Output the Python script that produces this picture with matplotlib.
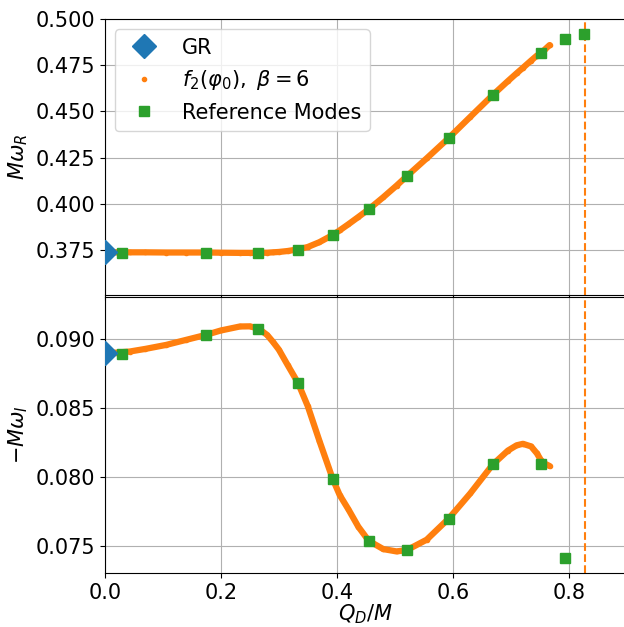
import numpy as np
import matplotlib
matplotlib.use("Agg")
import matplotlib.pyplot as plt

# GR (Schwarzschild l=2, n=0) mode
gr_x = [0.0]
gr_re = [0.37367]
gr_im = [0.08896]

# f2(phi0), beta = 6 curve
curve_x = [0.005, 0.02, 0.043, 0.07, 0.106, 0.14, 0.175, 0.2, 0.233, 0.25, 0.265,
           0.28, 0.29, 0.30, 0.315, 0.333, 0.35, 0.37, 0.393, 0.405, 0.42, 0.437, 0.455, 0.48,
           0.503, 0.521, 0.555, 0.593, 0.63, 0.669, 0.695, 0.71, 0.721, 0.735,
           0.745, 0.752, 0.759, 0.767]
curve_re = [0.3737, 0.3737, 0.3737, 0.3737, 0.3736, 0.3736, 0.3736, 0.3735, 0.3734, 0.3734, 0.3734,
            0.3735, 0.3737, 0.3739, 0.3744, 0.3753, 0.3766, 0.3792, 0.3831, 0.3856, 0.3889, 0.3928, 0.3970, 0.4035,
            0.4098, 0.4150, 0.4246, 0.4356, 0.4470, 0.4589, 0.4664, 0.4706, 0.4736, 0.4775,
            0.4802, 0.4814, 0.4836, 0.4859]
curve_im = [0.08896, 0.08898, 0.08906, 0.08925, 0.08954, 0.08990, 0.09027, 0.09058, 0.09087, 0.09088, 0.09072,
            0.09025, 0.08975, 0.08920, 0.08810, 0.08680, 0.08510, 0.08260, 0.07984, 0.07868, 0.07765, 0.07640, 0.07538, 0.07478,
            0.07461, 0.07471, 0.07546, 0.07699, 0.07880, 0.08090, 0.08190, 0.08228, 0.08239, 0.08220,
            0.08170, 0.08120, 0.08095, 0.08078]

# reference modes
ref_x = [0.029, 0.174, 0.264, 0.333, 0.393, 0.455, 0.521, 0.593, 0.669, 0.752, 0.793, 0.826]
ref_re = [0.3736, 0.3736, 0.3734, 0.3752, 0.3831, 0.3970, 0.4150, 0.4356, 0.4589, 0.4814, 0.4892, 0.4917]
ref_im = [0.08889, 0.09027, 0.09072, 0.08680, 0.07984, 0.07538, 0.07471, 0.07699, 0.08090, 0.08095, 0.07410]

q_max = 0.828

plt.rcParams['font.size'] = 15

fig = plt.figure(figsize=(6.24, 6.27), dpi=100)
ax1 = fig.add_axes([0.168, 0.5295, 0.8365, 0.4402])
ax2 = fig.add_axes([0.168, 0.0861, 0.8365, 0.4402], sharex=ax1)

# top: real part
ax1.plot(gr_x, gr_re, 'D', color='C0', ms=12, label='GR', zorder=4)
ax1.plot(curve_x, curve_re, '-', color='C1', lw=4.5, solid_capstyle='round',
         solid_joinstyle='round', zorder=2)
ax1.plot(curve_x, curve_re, '.', color='C1', ms=6, label=r'$f_2(\varphi_0),\ \beta=6$', zorder=2)
ax1.plot(ref_x, ref_re, 's', color='C2', ms=7, label='Reference Modes', zorder=3)
ax1.axvline(q_max, color='C1', ls='--', lw=1.5)
ax1.set_ylim(0.3506, 0.500)
ax1.set_yticks([0.375, 0.400, 0.425, 0.450, 0.475, 0.500])
ax1.set_ylabel(r'$M\omega_R$')
ax1.grid(True)
ax1.tick_params(labelbottom=False)
ax1.legend(loc='upper left', fontsize=15)

# bottom: imaginary part
ax2.plot(gr_x, gr_im, 'D', color='C0', ms=12, zorder=4)
ax2.plot(curve_x, curve_im, '-', color='C1', lw=4.5, solid_capstyle='round',
         solid_joinstyle='round', zorder=2)
ax2.plot(curve_x, curve_im, '.', color='C1', ms=6, zorder=2)
ax2.plot(ref_x[:len(ref_im)], ref_im, 's', color='C2', ms=7, zorder=3)
ax2.axvline(q_max, color='C1', ls='--', lw=1.5)
ax2.set_ylim(0.07305, 0.0930)
ax2.set_yticks([0.075, 0.080, 0.085, 0.090])
ax2.set_ylabel(r'$-M\omega_I$')
ax2.set_xlabel(r'$Q_D/M$', labelpad=0)
ax2.set_xlim(0, 0.9)
ax2.set_xticks([0.0, 0.2, 0.4, 0.6, 0.8])
ax2.grid(True)

fig.savefig('out.png', dpi=100)
